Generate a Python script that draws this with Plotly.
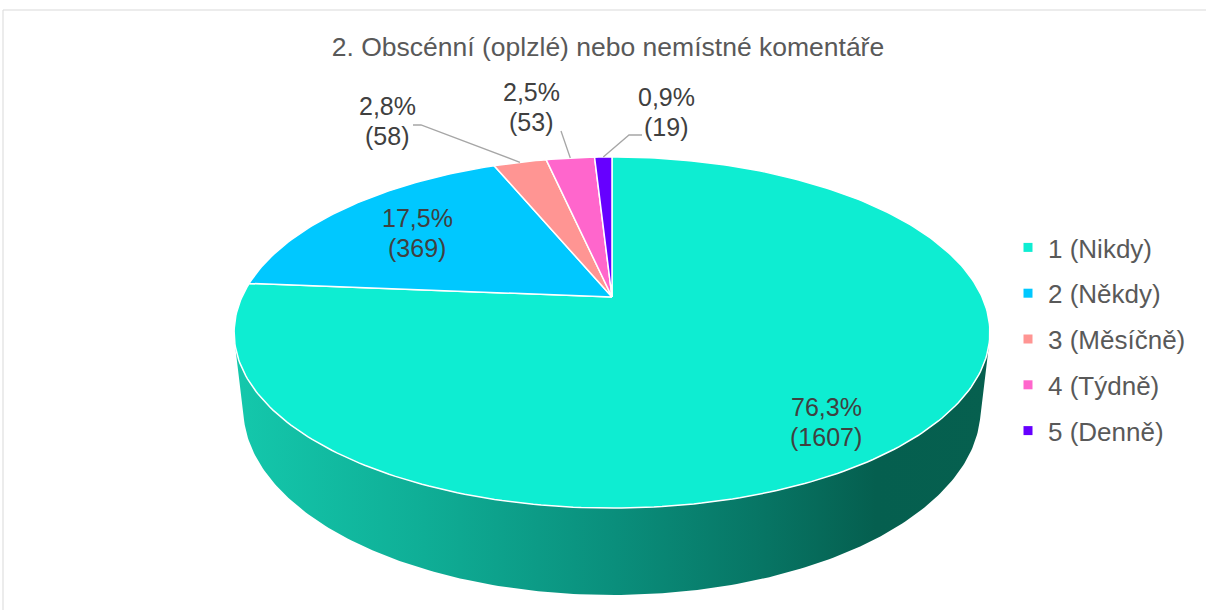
import numpy as np
import plotly.graph_objects as go

# ---------------- data ----------------
categories = ["1 (Nikdy)", "2 (Někdy)", "3 (Měsíčně)", "4 (Týdně)", "5 (Denně)"]
counts = [1607, 369, 58, 53, 19]
title_text = "2. Obscénní (oplzlé) nebo nemístné komentáře"

# ---------------- style / layout ----------------
colors = ["#0EEDD2", "#00C8FF", "#FF9593", "#FF66CC", "#6600FF"]
W, H = 1206, 610
CX, CY = 612, 297          # pie centre (pixels)
FOCAL = 1628               # projection scale
ALPHA = np.radians(27.06)  # tilt of the pie
DIST = 4.94 * np.cos(ALPHA)
DEPTH = 0.232              # thickness of the pie
FONT = "Liberation Sans, Arial, sans-serif"

label_pos = [(826, 422), (417, 233), (387, 121), (531, 107), (666, 112)]
leader_pts = [None, None, [(413, 125), (421, 125)], [(561, 131)], [(642, 135), (629, 135)]]


def project(t_deg, z=0.0):
    t = np.radians(np.asarray(t_deg, dtype=float))
    x, y = np.cos(t), np.sin(t)
    s, c = np.sin(ALPHA), np.cos(ALPHA)
    w = DIST + y * c - z * s
    v = y * s + z * c
    return CX + FOCAL * x / w, CY - FOCAL * v / w


fig = go.Figure()

# ---- side of the pie (front, visible part) ----
s, c = np.sin(ALPHA), np.cos(ALPHA)
ts = np.degrees(np.arcsin(1.0 / (DIST * c)))
t1, t2 = 180 + ts, 360 - ts
arc = np.linspace(t1, t2, 200)
xt, yt = project(arc, 0.0)
xb, yb = project(arc[::-1], -DEPTH)
fig.add_trace(go.Scatter(
    x=np.concatenate([xt, xb, xt[:1]]), y=np.concatenate([yt, yb, yt[:1]]),
    mode="lines", fill="toself", line=dict(width=0, color="rgba(0,0,0,0)"),
    fillgradient=dict(type="horizontal", colorscale=[
        [0.0, "#14C8AC"], [0.25, "#0FAE96"], [0.5, "#0A8F7C"],
        [0.7, "#077564"], [0.85, "#055F4F"], [1.0, "#06604F"]]),
    hoverinfo="skip", showlegend=False))

# ---- top face slices ----
total = sum(counts)
cum = np.concatenate([[0], np.cumsum(counts)]) / total
mids = []
for i, cat in enumerate(categories):
    a0 = 90 - 360 * cum[i]
    a1 = 90 - 360 * cum[i + 1]
    n = max(int(abs(a1 - a0)) + 2, 4)
    ang = np.linspace(a0, a1, n)
    xa, ya = project(ang, 0.0)
    px = np.concatenate([[CX], xa, [CX]])
    py = np.concatenate([[CY], ya, [CY]])
    fig.add_trace(go.Scatter(
        x=px, y=py, mode="lines", fill="toself", fillcolor=colors[i],
        line=dict(color="white", width=1.5), hoverinfo="skip", showlegend=False))
    mids.append((a0 + a1) / 2)

# ---- leader lines ----
for i, pts in enumerate(leader_pts):
    if pts is None:
        continue
    rx, ry = project(mids[i], 0.0)
    xs = [p[0] for p in pts] + [float(rx)]
    ys = [p[1] for p in pts] + [float(ry)]
    fig.add_trace(go.Scatter(x=xs, y=ys, mode="lines",
                             line=dict(color="#A6A6A6", width=1.3),
                             hoverinfo="skip", showlegend=False))

# ---- data labels ----
for i, cat in enumerate(categories):
    pct = f"{100 * counts[i] / total:.1f}".replace(".", ",") + "%"
    lx, ly = label_pos[i]
    for txt, dy in ((pct, -15), (f"({counts[i]})", 15)):
        fig.add_annotation(x=lx, y=ly + dy, text=txt, showarrow=False,
                           font=dict(family=FONT, size=25, color="#404040"),
                           xanchor="center", yanchor="middle")

# ---- legend entries ----
for i, cat in enumerate(categories):
    fig.add_trace(go.Scatter(x=[None], y=[None], mode="markers", name=cat,
                             legendgroup=cat,
                             marker=dict(symbol="square", size=9, color=colors[i])))

fig.update_layout(
    width=W, height=H,
    margin=dict(l=0, r=0, t=0, b=0),
    paper_bgcolor="white", plot_bgcolor="white",
    xaxis=dict(range=[0, W], visible=False, fixedrange=True),
    yaxis=dict(range=[H, 0], visible=False, fixedrange=True),
    title=dict(text=title_text, x=608 / W, xanchor="center",
               y=1 - 47 / H, yanchor="middle",
               font=dict(family=FONT, size=26.5, color="#595959")),
    legend=dict(x=1008 / W, xanchor="left", y=1 - 224 / H, yanchor="top",
                font=dict(family=FONT, size=26, color="#595959"),
                tracegroupgap=9, bgcolor="rgba(0,0,0,0)"),
    shapes=[dict(type="rect", xref="x", yref="y", x0=3, y0=10, x1=W + 5, y1=H + 5,
                 line=dict(color="#D9D9D9", width=1), fillcolor="rgba(0,0,0,0)",
                 layer="below")],
    showlegend=True,
)

fig.write_html("out.html", config={"displayModeBar": False},
               post_script="document.body.style.margin='0';document.body.style.overflow='hidden';")
